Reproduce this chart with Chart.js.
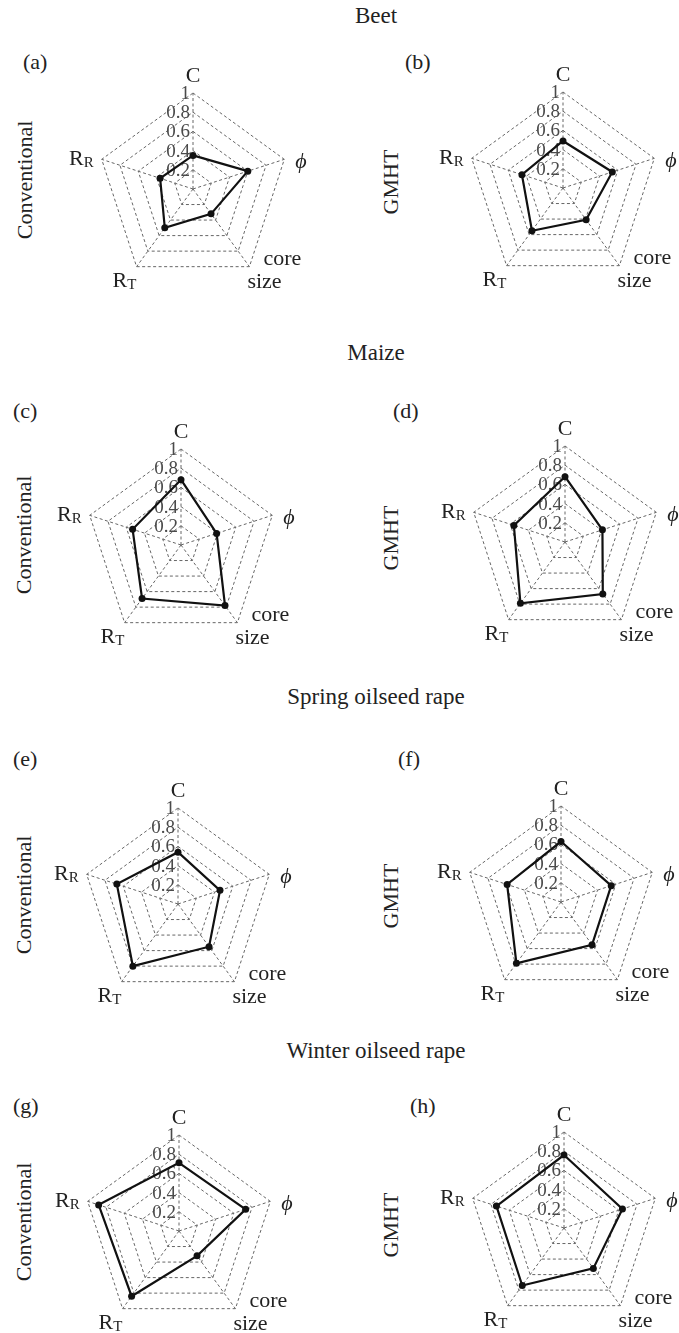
<!DOCTYPE html>
<html>
<head>
<meta charset="utf-8">
<script src="https://cdn.jsdelivr.net/npm/chart.js@4.4.0/dist/chart.umd.min.js"></script>
<style>
    html, body { margin: 0; padding: 0; background: #fff; overflow: hidden; }
    body { width: 679px; height: 1333px; position: relative; font-family: "Liberation Serif", "DejaVu Serif", serif; color: #222; }
    .t { position: absolute; font-size: 22px; line-height: 22px; white-space: nowrap; }
    .titolo { left: 276px; width: 200px; text-align: center; font-size: 23px; }
    .ruota { transform: translate(-50%, -50%) rotate(-90deg); }
    canvas { position: absolute; }
</style>
</head>
<body>
<div class="t titolo" style="top:5px">Beet</div>
<div class="t titolo" style="top:342px">Maize</div>
<div class="t titolo" style="top:686px">Spring oilseed rape</div>
<div class="t titolo" style="top:1040px">Winter oilseed rape</div>

<div class="t" style="left:23px;top:51px">(a)</div>
<div class="t" style="left:405px;top:51px">(b)</div>
<div class="t" style="left:13px;top:400px">(c)</div>
<div class="t" style="left:393px;top:400px">(d)</div>
<div class="t" style="left:13px;top:748px">(e)</div>
<div class="t" style="left:398px;top:748px">(f)</div>
<div class="t" style="left:13px;top:1095px">(g)</div>
<div class="t" style="left:410px;top:1095px">(h)</div>

<div class="t ruota" style="left:25px;top:180px">Conventional</div>
<div class="t ruota" style="left:391px;top:182px">GMHT</div>
<div class="t ruota" style="left:24px;top:535px">Conventional</div>
<div class="t ruota" style="left:391px;top:538px">GMHT</div>
<div class="t ruota" style="left:24px;top:895px">Conventional</div>
<div class="t ruota" style="left:391px;top:896px">GMHT</div>
<div class="t ruota" style="left:24px;top:1222px">Conventional</div>
<div class="t ruota" style="left:391px;top:1225px">GMHT</div>

<canvas id="a" width="280" height="280"></canvas>
<canvas id="b" width="280" height="280"></canvas>
<canvas id="c" width="280" height="280"></canvas>
<canvas id="d" width="280" height="280"></canvas>
<canvas id="e" width="280" height="280"></canvas>
<canvas id="f" width="280" height="280"></canvas>
<canvas id="g" width="280" height="280"></canvas>
<canvas id="h" width="280" height="280"></canvas>

<script>
// assi: C, phi, core size, R_T, R_R
var axisLabels = ['C', 'ϕ', 'core size', 'RT', 'RR'];
var tickValues = [0.2, 0.4, 0.6, 0.8, 1];
var tickLabels = ['0.2', '0.4', '0.6', '0.8', '1'];

var beetConv = [0.35, 0.60, 0.32, 0.50, 0.36];
var beetGM = [0.49, 0.54, 0.41, 0.55, 0.45];
var maizeConv = [0.68, 0.39, 0.78, 0.69, 0.53];
var maizeGM = [0.68, 0.41, 0.67, 0.79, 0.56];
var springConv = [0.54, 0.46, 0.55, 0.80, 0.67];
var springGM = [0.63, 0.55, 0.55, 0.79, 0.59];
var winterConv = [0.71, 0.73, 0.32, 0.84, 0.88];
var winterGM = [0.76, 0.64, 0.52, 0.74, 0.74];

var R = 96, SIZE = 280;
var FONT = '"Liberation Serif", "DejaVu Serif", serif';

var etichette = {
    id: 'etichette',
    beforeDatasetsDraw: function (chart) {
        var ctx = chart.ctx, s = chart.scales.r;
        ctx.save();
        ctx.font = '19px ' + FONT;
        ctx.fillStyle = '#4a4a4a';
        ctx.textAlign = 'right';
        ctx.textBaseline = 'middle';
        tickValues.forEach(function (v, i) {
            var d = s.getDistanceFromCenterForValue(v);
            ctx.fillText(tickLabels[i], s.xCenter - 3, s.yCenter - d + 1);
        });
        ctx.restore();
    },
    afterDraw: function (chart) {
        var ctx = chart.ctx, s = chart.scales.r;
        var p = function (i) { return s.getPointPosition(i, s.drawingArea); };
        var big = '22px ' + FONT, small = '15px ' + FONT;
        ctx.save();
        ctx.fillStyle = '#222';
        ctx.textBaseline = 'alphabetic';
        ctx.font = big;

        var v = p(0);
        ctx.textAlign = 'center';
        ctx.fillText(axisLabels[0], v.x, v.y - 11);

        ctx.textAlign = 'left';
        v = p(1);
        ctx.font = 'italic ' + big;
        ctx.fillText(axisLabels[1], v.x + 11, v.y + 9);

        ctx.font = big;
        v = p(2);
        var parti = axisLabels[2].split(' ');
        ctx.fillText(parti[0], v.x + 14, v.y - 2);
        ctx.fillText(parti[1], v.x - 2, v.y + 21);

        // R con pedice
        v = p(3);
        var x0 = v.x - 24;
        ctx.fillText(axisLabels[3][0], x0, v.y + 20);
        var wR = ctx.measureText(axisLabels[3][0]).width;
        ctx.font = small;
        ctx.fillText(axisLabels[3].slice(1), x0 + wR, v.y + 22);

        v = p(4);
        var wSub = ctx.measureText(axisLabels[4].slice(1)).width;
        ctx.font = big;
        wR = ctx.measureText(axisLabels[4][0]).width;
        x0 = v.x - 8 - wR - wSub;
        ctx.fillText(axisLabels[4][0], x0, v.y + 6);
        ctx.font = small;
        ctx.fillText(axisLabels[4].slice(1), x0 + wR, v.y + 8);
        ctx.restore();
    }
};

function creaRadar(id, cx, cy, dati) {
    var el = document.getElementById(id);
    el.style.left = (cx - SIZE / 2) + 'px';
    el.style.top = (cy - SIZE / 2) + 'px';

    new Chart(el.getContext('2d'), {
        type: 'radar',
        data: {
            labels: axisLabels,
            datasets: [{
                data: dati,
                borderColor: '#111',
                borderWidth: 2.2,
                pointRadius: 3.5,
                pointBackgroundColor: '#111',
                pointBorderWidth: 0,
                fill: false
            }]
        },
        options: {
            responsive: false,
            animation: false,
            layout: { padding: (SIZE - 2 * R) / 2 },
            plugins: {
                legend: { display: false },
                tooltip: { enabled: false }
            },
            scales: {
                r: {
                    min: 0,
                    max: 1,
                    ticks: { stepSize: 0.2, display: false },
                    pointLabels: { display: false },
                    grid: { color: '#666', lineWidth: 1 },
                    border: { dash: [3, 2.5] },
                    angleLines: { color: '#666', lineWidth: 1, borderDash: [3, 2.5] }
                }
            }
        },
        plugins: [etichette]
    });
}

creaRadar('a', 193, 189, beetConv);
creaRadar('b', 563, 188, beetGM);
creaRadar('c', 181, 545, maizeConv);
creaRadar('d', 565, 542, maizeGM);
creaRadar('e', 178, 904, springConv);
creaRadar('f', 561, 902, springGM);
creaRadar('g', 179, 1231, winterConv);
creaRadar('h', 564, 1228, winterGM);
</script>
</body>
</html>
